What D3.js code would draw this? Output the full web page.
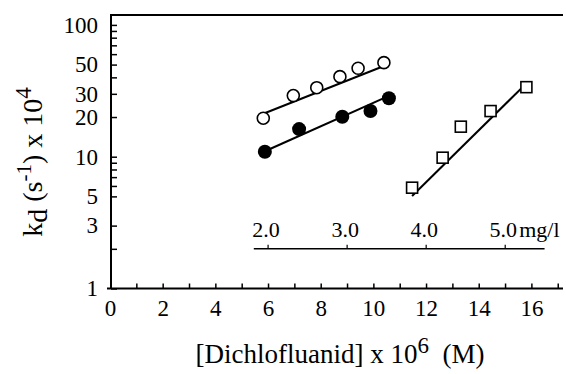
<!DOCTYPE html>
<html>
<head>
<meta charset="utf-8">
<script src="https://cdn.jsdelivr.net/npm/d3@7"></script>
<style>
  body { margin: 0; background: #fff; }
  svg text { font-family: "Liberation Serif", "Times New Roman", serif; fill: black; }
</style>
</head>
<body>
<svg id="chart" width="566" height="374"></svg>
<script>
'use strict';

// dichlofluanid concentration (uM) and kd (s-1 x 10^4)
const openX = [5.82, 6.96, 7.85, 8.73, 9.42, 10.40];
const openY = [19.6, 29.1, 33.4, 40.5, 46.9, 51.7];
const filledX = [5.88, 7.18, 8.82, 9.89, 10.59];
const filledY = [10.9, 16.2, 20.1, 22.2, 27.8];
const squareX = [11.47, 12.63, 13.32, 14.45, 15.81];
const squareY = [5.82, 9.83, 16.9, 22.2, 33.7];

// fitted lines, end points [x, y]
const openFit = [[5.82, 21.2], [10.40, 48.8]];
const filledFit = [[5.88, 11.0], [10.59, 28.9]];
const squareFit = [[11.47, 5.04], [15.81, 36.0]];

const xLabels = [0, 2, 4, 6, 8, 10, 12, 14, 16];
const xMinor = d3.range(1, 18);
const yTicks = [1, 2, 3, 5, 6, 7, 8, 9, 10, 20, 30, 40, 50, 60, 70, 80, 90, 100];
const yLabels = [1, 3, 5, 10, 20, 30, 50, 100];

// second scale in mg/l (molar mass 333.2 g/mol)
const mgTicks = [2.0, 3.0, 4.0, 5.0];
const mgRange = [5.46, 16.5];
const mgLevel = 2;
const molarMass = 333.2;

const svg = d3.select('#chart');

const x = d3.scaleLinear().domain([0, 17.2]).range([110, 563]);
const y = d3.scaleLog().domain([1, 121]).range([288.5, 14]);

const toMicroMolar = mg => mg * 1000 / molarMass;

// frame
svg.append('line')
  .attr('x1', x(0) - 3).attr('x2', x(17.2))
  .attr('y1', y(1)).attr('y2', y(1))
  .attr('stroke', 'black').attr('stroke-width', 2);
svg.append('line')
  .attr('x1', x(0) + 1).attr('x2', x(0) + 1)
  .attr('y1', y(1)).attr('y2', y(121))
  .attr('stroke', 'black').attr('stroke-width', 2);
svg.append('line')
  .attr('x1', x(0)).attr('x2', x(17.2))
  .attr('y1', y(121) + 1).attr('y2', y(121) + 1)
  .attr('stroke', 'black').attr('stroke-width', 2);

// y axis
const yAxis = d3.axisLeft(y)
  .tickValues(yTicks)
  .tickSizeInner(-6)
  .tickSizeOuter(0)
  .tickPadding(13)
  .tickFormat(d => yLabels.includes(d) ? d : '');
svg.append('g')
  .attr('transform', `translate(${x(0) + 1},0)`)
  .call(yAxis)
  .call(g => g.select('.domain').remove())
  .call(g => g.selectAll('line').attr('stroke-width', 1.5))
  .call(g => g.selectAll('text').attr('font-size', 23));

// x axis
svg.append('g')
  .attr('transform', `translate(0,${y(1)})`)
  .call(d3.axisBottom(x).tickValues(xMinor).tickSizeInner(-5).tickSizeOuter(0).tickFormat(''))
  .call(g => g.select('.domain').remove())
  .call(g => g.selectAll('line').attr('stroke-width', 1.5));
svg.append('g')
  .attr('transform', `translate(0,${y(1)})`)
  .call(d3.axisBottom(x).tickValues(xLabels).tickSize(0).tickPadding(11).tickFormat(d3.format('d')))
  .call(g => g.select('.domain').remove())
  .call(g => g.selectAll('text').attr('font-size', 23));

// mg/l scale inside the plot
const mg = svg.append('g').attr('transform', `translate(0,${y(mgLevel)})`);
mg.append('line')
  .attr('x1', x(mgRange[0])).attr('x2', x(mgRange[1]))
  .attr('stroke', 'black').attr('stroke-width', 1.5);
mg.selectAll('.mgtick')
  .data(mgTicks)
  .join('line')
  .attr('class', 'mgtick')
  .attr('x1', d => x(toMicroMolar(d))).attr('x2', d => x(toMicroMolar(d)))
  .attr('y1', 0).attr('y2', -4)
  .attr('stroke', 'black').attr('stroke-width', 1.2);
mg.selectAll('.mglabel')
  .data(mgTicks)
  .join('text')
  .attr('class', 'mglabel')
  .attr('x', d => x(toMicroMolar(d)) - 2)
  .attr('y', -12)
  .attr('text-anchor', 'middle')
  .attr('font-size', 22)
  .text(d => d.toFixed(1));
mg.append('text')
  .attr('x', x(toMicroMolar(mgTicks[mgTicks.length - 1])) + 14)
  .attr('y', -12)
  .attr('font-size', 22)
  .text('mg/l');

// fitted lines
const line = d3.line().x(d => x(d[0])).y(d => y(d[1]));
[openFit, filledFit, squareFit].forEach(fit => {
  svg.append('path')
    .attr('d', line(fit))
    .attr('fill', 'none')
    .attr('stroke', 'black')
    .attr('stroke-width', 2);
});

// markers
svg.append('g').selectAll('circle')
  .data(openX.map((v, i) => [v, openY[i]]))
  .join('circle')
  .attr('cx', d => x(d[0])).attr('cy', d => y(d[1]))
  .attr('r', 6)
  .attr('fill', 'white').attr('stroke', 'black').attr('stroke-width', 1.6);

svg.append('g').selectAll('circle')
  .data(filledX.map((v, i) => [v, filledY[i]]))
  .join('circle')
  .attr('cx', d => x(d[0])).attr('cy', d => y(d[1]))
  .attr('r', 7)
  .attr('fill', 'black');

const side = 11;
svg.append('g').selectAll('rect')
  .data(squareX.map((v, i) => [v, squareY[i]]))
  .join('rect')
  .attr('x', d => x(d[0]) - side / 2).attr('y', d => y(d[1]) - side / 2)
  .attr('width', side).attr('height', side)
  .attr('fill', 'white').attr('stroke', 'black').attr('stroke-width', 1.6);

// axis titles
const xTitle = svg.append('text')
  .attr('x', 340).attr('y', 363)
  .attr('text-anchor', 'middle')
  .attr('font-size', 27);
xTitle.append('tspan').text('[Dichlofluanid] x 10');
xTitle.append('tspan').attr('dy', -10).attr('font-size', 23).text('6');
xTitle.append('tspan').attr('dy', 10).text('\u00a0 (M)');

const yTitle = svg.append('text')
  .attr('transform', 'translate(42,162) rotate(-90)')
  .attr('text-anchor', 'middle')
  .attr('font-size', 28);
yTitle.append('tspan').text('k');
yTitle.append('tspan').attr('dy', 5).text('d');
yTitle.append('tspan').attr('dy', -5).text(' (s');
yTitle.append('tspan').attr('dy', -11).attr('font-size', 21).text('-1');
yTitle.append('tspan').attr('dy', 11).text(') x 10');
yTitle.append('tspan').attr('dy', -11).attr('font-size', 23).text('4');
</script>
</body>
</html>
